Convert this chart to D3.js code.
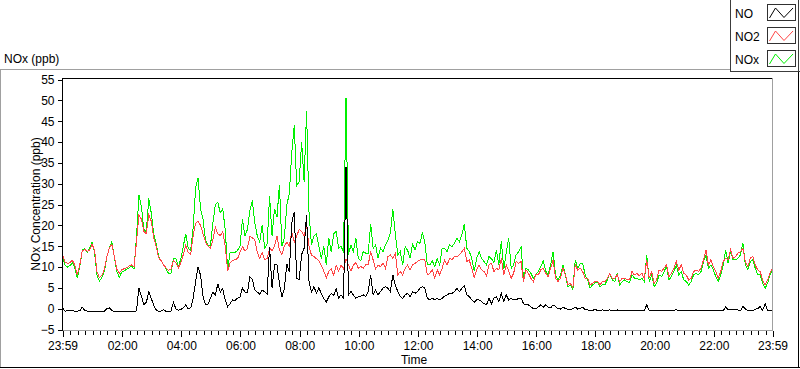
<!DOCTYPE html>
<html><head><meta charset="utf-8">
<script src="https://cdn.jsdelivr.net/npm/d3@7"></script>
<style>
body{margin:0;background:#fff}
svg{display:block}
text{font-family:"Liberation Sans",Arial,sans-serif;fill:#000}
</style>
</head><body>
<svg id="chart" width="800" height="369"></svg>
<script>
// ---------- data ----------
const seriesNames = ["NO", "NO2", "NOx"];
const stepMinutes = 5;            // one sample every 5 minutes, starting 23:59
const xTickMinutes = [0, 121, 241, 361, 481, 601, 721, 841, 961, 1081, 1201, 1321, 1440];
const xTickLabels = ["23:59", "02:00", "04:00", "06:00", "08:00", "10:00", "12:00", "14:00", "16:00", "18:00", "20:00", "22:00", "23:59"];
const yTickValues = [-5, 0, 5, 10, 15, 20, 25, 30, 35, 40, 45, 50, 55];

const no2Values = [
  12.9, 11.2, 10.9, 11.0, 11.6, 10.5, 8.2, 10.5, 13.8, 14.2, 13.8, 14.0,
  15.5, 14.0, 8.8, 7.4, 8.0, 9.5, 12.5, 14.5, 15.5, 12.5, 9.5, 8.5,
  9.3, 9.6, 9.8, 10.2, 10.5, 10.0, 16.0, 22.5, 21.5, 18.5, 18.0, 22.5,
  21.0, 17.0, 15.0, 12.2, 11.5, 10.5, 9.8, 9.2, 9.5, 11.5, 11.0, 9.8,
  11.0, 13.0, 15.2, 13.5, 13.0, 17.5, 20.5, 21.0, 20.0, 18.0, 16.0, 15.0,
  14.5, 16.5, 19.5, 18.0, 17.5, 18.5, 15.0, 9.0, 11.0, 11.5, 11.8, 12.0,
  13.5, 14.9, 13.8, 14.5, 17.3, 17.0, 16.5, 13.5, 12.0, 13.5, 11.8, 12.0,
  14.5, 14.0, 15.0, 17.5, 14.0, 13.0, 15.0, 16.0, 15.0, 18.5, 16.0, 17.5,
  19.0, 18.5, 17.5, 20.0, 15.0, 12.8, 12.5, 12.0, 11.5, 10.4, 9.0, 7.4,
  8.9, 9.6, 8.0, 10.4, 9.0, 10.5, 9.5, 12.0, 10.5, 9.0, 10.5, 11.0,
  9.7, 10.1, 9.7, 10.5, 10.5, 13.7, 11.7, 9.5, 10.5, 10.1, 10.9, 9.7,
  12.5, 12.9, 12.1, 13.3, 8.1, 8.9, 8.1, 9.7, 10.5, 9.3, 10.5, 10.9,
  11.3, 11.7, 11.7, 11.7, 8.1, 8.5, 9.3, 7.3, 9.3, 8.1, 9.7, 11.7,
  10.5, 12.1, 11.7, 12.5, 12.5, 12.9, 13.7, 14.5, 11.3, 11.7, 9.7, 7.5,
  9.3, 10.5, 9.3, 8.9, 7.9, 10.5, 10.9, 8.9, 9.7, 9.3, 12.1, 8.1,
  10.5, 9.0, 7.3, 8.5, 11.3, 10.9, 11.3, 6.5, 9.3, 8.5, 7.3, 6.5,
  8.1, 8.1, 9.3, 9.7, 8.5, 7.7, 9.7, 11.7, 7.3, 6.5, 7.3, 9.7,
  8.1, 5.7, 6.1, 5.0, 10.5, 9.3, 9.7, 8.9, 7.3, 7.3, 5.7, 6.1,
  6.5, 6.5, 5.7, 6.5, 6.5, 7.3, 8.5, 7.3, 7.3, 8.1, 6.5, 7.3,
  7.3, 6.9, 6.9, 8.9, 8.1, 8.5, 7.9, 8.5, 7.3, 11.7, 7.3, 8.9,
  6.1, 6.9, 9.3, 8.9, 9.7, 10.5, 7.7, 8.5, 9.7, 11.3, 9.3, 10.5,
  8.5, 8.1, 6.9, 7.3, 8.9, 9.3, 8.9, 9.7, 11.7, 14.1, 10.5, 11.7,
  10.1, 8.9, 7.3, 8.9, 11.3, 12.1, 11.7, 14.1, 12.1, 12.5, 13.3, 13.7,
  14.5, 11.3, 10.1, 12.1, 12.5, 10.5, 9.3, 8.9, 6.9, 5.7, 6.9, 8.5,
  9.7
];

const noxValues = [
  12.5, 10.5, 10.0, 10.3, 11.0, 9.8, 7.3, 10.0, 14.0, 14.5, 13.5, 14.5,
  16.0, 13.5, 8.0, 6.6, 7.5, 9.0, 12.5, 14.5, 16.0, 12.5, 9.0, 7.5,
  8.8, 9.0, 9.5, 9.8, 10.3, 9.5, 17.0, 27.3, 24.5, 19.0, 18.5, 26.5,
  23.0, 18.0, 15.5, 12.5, 11.5, 10.5, 9.5, 8.5, 8.5, 12.0, 12.0, 10.0,
  12.0, 15.0, 18.0, 14.5, 14.0, 19.5, 29.0, 31.3, 24.0, 21.5, 16.5, 15.3,
  15.0, 20.5, 25.0, 25.5, 23.0, 24.0, 19.0, 9.5, 13.5, 13.5, 13.5, 14.0,
  15.0, 21.5, 17.5, 19.0, 23.5, 26.0, 20.5, 17.5, 16.0, 20.0, 14.5, 15.5,
  27.0, 17.5, 24.0, 22.0, 29.7, 15.0, 17.0, 25.0, 27.5, 37.5, 44.0, 29.5,
  30.5, 40.0, 30.5, 47.5, 23.0, 15.3, 17.5, 18.0, 15.0, 12.0, 15.0, 10.5,
  17.0, 13.5, 18.0, 18.5, 14.5, 15.0, 13.5, 50.5, 13.0, 15.3, 13.7, 16.9,
  12.1, 11.5, 13.7, 13.3, 13.3, 20.3, 14.5, 15.3, 12.1, 14.5, 13.7, 15.3,
  16.5, 18.1, 23.9, 18.0, 12.9, 13.7, 10.5, 14.9, 14.0, 12.1, 15.5, 14.1,
  16.1, 15.7, 18.3, 15.7, 10.5, 10.5, 11.5, 10.1, 12.0, 10.5, 14.5, 14.5,
  13.7, 15.3, 14.9, 15.7, 16.9, 16.1, 17.7, 20.3, 14.5, 13.7, 12.1, 9.0,
  12.1, 13.7, 12.1, 11.3, 10.5, 12.5, 12.0, 11.0, 14.1, 10.5, 16.3, 9.5,
  13.5, 16.9, 9.7, 10.5, 12.9, 13.7, 14.9, 7.3, 9.7, 9.3, 8.5, 7.3,
  8.1, 8.9, 10.1, 11.5, 9.0, 8.1, 10.5, 13.7, 8.1, 6.9, 8.1, 10.5,
  8.1, 5.3, 5.7, 4.5, 11.7, 9.7, 10.9, 10.9, 8.1, 6.9, 5.0, 5.7,
  6.1, 6.5, 5.3, 5.7, 5.7, 6.9, 8.5, 6.9, 6.5, 8.5, 5.7, 6.5,
  6.9, 6.5, 6.3, 8.1, 7.3, 7.3, 6.9, 7.3, 6.5, 12.9, 6.5, 8.1,
  5.3, 6.1, 8.1, 7.7, 8.9, 10.1, 6.9, 7.7, 8.9, 10.5, 8.1, 8.9,
  6.9, 6.5, 5.7, 6.5, 8.1, 8.5, 8.1, 8.9, 11.3, 12.9, 9.7, 10.5,
  9.3, 7.7, 6.5, 8.1, 10.5, 14.1, 10.9, 13.7, 11.7, 11.7, 12.1, 12.9,
  15.8, 10.5, 9.3, 11.3, 11.7, 9.7, 8.1, 8.1, 6.1, 4.9, 6.1, 8.1,
  9.3
];

const noValues = [
  0.2, -0.6, -0.5, -0.4, -0.5, -0.6, -0.6, -0.5, 0.4, -0.4, -0.6, -0.6,
  -0.6, -0.6, -0.6, -0.6, -0.6, -0.6, 0.0, 0.2, -0.4, -0.7, -0.7, -0.7,
  -0.7, -0.7, -0.7, -0.7, -0.7, -0.7, -0.5, 4.9, 3.0, 1.0, 1.5, 4.0,
  2.5, 0.8, -0.3, -0.6, -0.6, -0.2, -0.7, -0.7, -0.6, 1.6, -0.1, -0.4,
  -0.2, 0.2, 0.9, -0.1, 0.2, 2.5, 6.5, 10.0, 8.0, 3.0, 0.9, 1.0,
  2.5, 4.0, 3.2, 6.0, 4.0, 4.8, 2.0, 0.5, 1.2, 2.1, 2.0, 2.5,
  2.8, 5.0, 4.0, 3.8, 7.7, 7.0, 4.5, 4.0, 3.5, 4.5, 4.0, 3.6,
  14.9, 5.0, 10.5, 10.5, 6.0, 2.8, 4.8, 10.8, 8.8, 20.5, 23.3, 7.2,
  7.0, 13.0, 14.5, 22.5, 6.5, 4.0, 5.3, 3.7, 5.0, 3.6, 2.4, 1.6,
  2.8, 3.6, 3.2, 4.8, 2.5, 3.3, 2.5, 34.0, 3.3, 4.1, 3.3, 2.5,
  2.9, 3.0, 3.3, 2.9, 4.1, 8.1, 3.3, 4.5, 3.3, 4.1, 4.9, 5.3,
  4.9, 4.1, 8.1, 5.7, 4.1, 2.9, 2.5, 3.3, 3.7, 2.9, 4.1, 3.7,
  4.1, 4.9, 5.3, 4.9, 2.5, 2.1, 2.5, 2.1, 2.5, 2.1, 2.5, 3.0,
  3.3, 3.7, 3.7, 4.1, 4.9, 4.1, 4.9, 5.5, 3.3, 2.9, 2.1, 1.5,
  2.1, 2.1, 1.7, 1.2, 0.9, 2.5, 1.2, 2.5, 2.9, 1.7, 3.7, 1.7,
  3.3, 2.1, 2.5, 2.1, 2.1, 2.5, 2.5, 1.2, 0.9, 0.9, 0.4, 0.0,
  0.0, 0.4, 0.9, 0.3, 0.9, 0.4, 0.2, 0.9, 0.5, 0.0, -0.1, 0.4,
  0.0, -0.1, -0.2, 0.0, 0.4, -0.1, 0.0, 0.4, -0.2, -0.3, -0.4, -0.4,
  -0.2, -0.4, -0.4, -0.3, -0.4, -0.4, -0.3, -0.4, -0.4, -0.3, -0.5, -0.5,
  -0.5, -0.5, -0.4, -0.5, -0.5, -0.5, -0.5, -0.5, -0.5, 1.0, -0.5, -0.5,
  -0.5, -0.5, -0.5, -0.5, -0.5, -0.5, -0.5, -0.5, -0.5, -0.2, -0.5, -0.5,
  -0.5, -0.5, -0.5, -0.5, -0.5, -0.3, -0.5, -0.5, -0.5, -0.5, -0.5, -0.5,
  -0.5, -0.5, -0.5, -0.5, -0.5, 0.4, -0.3, -0.3, -0.3, -0.3, -0.3, -0.5,
  0.6, -0.1, -0.5, -0.5, -0.5, -0.1, 0.0, 0.5, -0.4, 1.2, -0.4, -0.5,
  -0.5
];

// ---------- drawing ----------
const svg = d3.select("#chart");
const plotLeft = 62, plotRight = 772, plotTop = 78, plotBottom = 330;

const x = d3.scaleLinear().domain([0, 1440]).range([plotLeft + 0.5, plotRight + 0.5]);
const y = d3.scaleLinear().domain([-5, 55]).range([329.5, 79.5]);

// outer panel frame
svg.append("line").attr("x1", 0).attr("x2", 730).attr("y1", 69.5).attr("y2", 69.5).attr("stroke", "#a0a0a0");
svg.append("line").attr("x1", 0.5).attr("x2", 0.5).attr("y1", 69).attr("y2", 368).attr("stroke", "#a0a0a0");
svg.append("line").attr("x1", 0).attr("x2", 800).attr("y1", 367.5).attr("y2", 367.5).attr("stroke", "#000");
svg.append("line").attr("x1", 798.5).attr("x2", 798.5).attr("y1", 72).attr("y2", 368).attr("stroke", "#000");

// panel title
svg.append("text").attr("x", 4).attr("y", 63).style("font-size", "12px").text("NOx (ppb)");

// clip
svg.append("clipPath").attr("id", "clip").append("rect")
  .attr("x", plotLeft + 1).attr("y", plotTop + 1)
  .attr("width", plotRight - plotLeft - 1).attr("height", plotBottom - plotTop - 1);

// series
const lineGen = d3.line()
  .x((d, i) => x(i * stepMinutes))
  .y(d => y(d))
  .curve(d3.curveLinear);

const seriesDraw = [
  { values: noxValues, color: "#00f000" },
  { values: no2Values, color: "#ff4545" },
  { values: noValues, color: "#000000" }
];
const gLines = svg.append("g").attr("clip-path", "url(#clip)");
seriesDraw.forEach(s => {
  gLines.append("path").datum(s.values)
    .attr("d", lineGen)
    .attr("fill", "none")
    .attr("stroke", s.color)
    .attr("stroke-width", 1)
    .attr("stroke-linejoin", "miter")
    .attr("shape-rendering", "crispEdges");
});

// plot borders
svg.append("line").attr("x1", plotLeft).attr("x2", plotRight + 1).attr("y1", plotTop + 0.5).attr("y2", plotTop + 0.5).attr("stroke", "#000");
svg.append("line").attr("x1", plotRight + 0.5).attr("x2", plotRight + 0.5).attr("y1", plotTop).attr("y2", plotBottom + 1).attr("stroke", "#a0a0a0");
svg.append("line").attr("x1", plotLeft).attr("x2", plotRight + 1).attr("y1", plotBottom + 0.5).attr("y2", plotBottom + 0.5).attr("stroke", "#a0a0a0");
svg.append("line").attr("x1", plotLeft + 0.5).attr("x2", plotLeft + 0.5).attr("y1", plotTop).attr("y2", plotBottom + 1).attr("stroke", "#000");

// y axis
const yAxis = d3.axisLeft(y).tickValues(yTickValues).tickSize(5).tickPadding(3).tickSizeOuter(0);
const gy = svg.append("g").attr("transform", `translate(${plotLeft + 0.5},0)`).call(yAxis);
gy.select(".domain").remove();
gy.selectAll("line").attr("stroke", "#000").attr("shape-rendering", "crispEdges");
gy.selectAll("text").style("font-size", "12px").attr("fill", "#000")
  .style("font-family", "'Liberation Sans', Arial, sans-serif");

// x axis: minor ticks every 15 minutes
const minorTicks = d3.range(1, 96).filter(k => k % 8 !== 0).map(k => 1 + 15 * k);
const xMinor = d3.axisBottom(x).tickValues(minorTicks).tickSize(4).tickFormat("").tickSizeOuter(0);
const gxm = svg.append("g").attr("transform", `translate(0,${plotBottom + 1})`).call(xMinor);
gxm.select(".domain").remove();
gxm.selectAll("line").attr("stroke", "#000").attr("shape-rendering", "crispEdges");

const xMajor = d3.axisBottom(x).tickValues(xTickMinutes)
  .tickFormat((d, i) => xTickLabels[i]).tickSize(6).tickPadding(4).tickSizeOuter(0);
const gx = svg.append("g").attr("transform", `translate(0,${plotBottom + 1})`).call(xMajor);
gx.select(".domain").remove();
gx.selectAll("line").attr("stroke", "#000").attr("shape-rendering", "crispEdges");
gx.selectAll("text").style("font-size", "12px").attr("fill", "#000")
  .style("font-family", "'Liberation Sans', Arial, sans-serif");

// axis titles
svg.append("text").attr("transform", "translate(40,204) rotate(-90)")
  .attr("text-anchor", "middle").style("font-size", "12px").text("NOx Concentration (ppb)");
svg.append("text").attr("x", 414).attr("y", 364).attr("text-anchor", "middle")
  .style("font-size", "12px").text("Time");

// legend
svg.append("rect").attr("x", 730).attr("y", 0).attr("width", 70).attr("height", 72).attr("fill", "#fff");
svg.append("line").attr("x1", 730.5).attr("x2", 730.5).attr("y1", 0).attr("y2", 72).attr("stroke", "#3c3c3c");
svg.append("line").attr("x1", 730).attr("x2", 800).attr("y1", 71.5).attr("y2", 71.5).attr("stroke", "#3c3c3c");
svg.append("line").attr("x1", 798.5).attr("x2", 798.5).attr("y1", 0).attr("y2", 72).attr("stroke", "#3c3c3c");

const legendColors = ["#000000", "#ff4545", "#00f000"];
const legendRowY = [4, 27, 50];
const zig = d3.line();
seriesNames.forEach((name, i) => {
  const gy0 = legendRowY[i];
  svg.append("text").attr("x", 735).attr("y", gy0 + 13.5).style("font-size", "12px").text(name);
  svg.append("rect").attr("x", 767.5).attr("y", gy0 + 0.5).attr("width", 28).attr("height", 16)
    .attr("fill", "#fff").attr("stroke", "#303030");
  svg.append("path")
    .attr("d", zig([[769.5, gy0 + 14], [775.5, gy0 + 4], [784, gy0 + 13.5], [793, gy0 + 4]]))
    .attr("fill", "none").attr("stroke", legendColors[i]).attr("stroke-width", 1);
});
</script>
</body></html>
